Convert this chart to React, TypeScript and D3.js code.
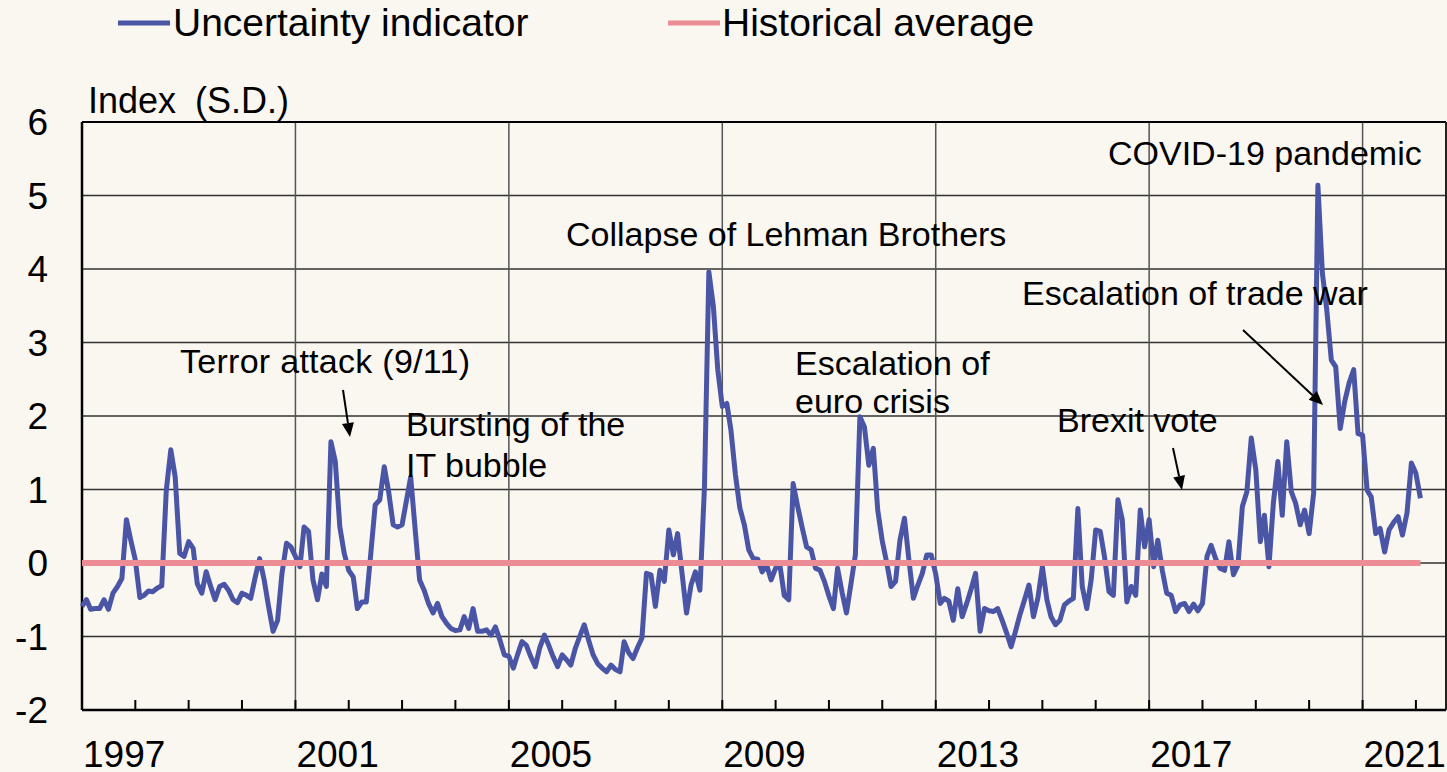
import React from 'react';
import { scaleLinear, scaleTime, line } from 'd3';

// monthly values of the uncertainty indicator, Jan 1997 onwards
const startYear = 1997;
const values1997to2000 = [
  -0.59, -0.5, -0.63, -0.62, -0.62, -0.5, -0.63, -0.41, -0.32, -0.21, 0.59, 0.31,
  0.04, -0.47, -0.44, -0.38, -0.39, -0.34, -0.31, 0.99, 1.54, 1.17, 0.13, 0.09,
  0.29, 0.2, -0.28, -0.41, -0.12, -0.32, -0.5, -0.32, -0.29, -0.37, -0.5, -0.54,
  -0.41, -0.44, -0.48, -0.19, 0.06, -0.23, -0.59, -0.93, -0.78, -0.14, 0.27, 0.22,
];
const values2001to2004 = [
  0.09, -0.05, 0.49, 0.43, -0.23, -0.5, -0.15, -0.32, 1.65, 1.38, 0.49, 0.13,
  -0.1, -0.19, -0.62, -0.53, -0.53, 0.13, 0.79, 0.86, 1.31, 0.97, 0.52, 0.49,
  0.52, 0.86, 1.17, 0.45, -0.23, -0.37, -0.55, -0.68, -0.55, -0.73, -0.82, -0.89,
  -0.92, -0.91, -0.73, -0.89, -0.62, -0.93, -0.93, -0.91, -0.98, -0.87, -1.05, -1.25,
];
const values2005to2008 = [
  -1.27, -1.43, -1.25, -1.07, -1.12, -1.28, -1.41, -1.15, -0.98, -1.12, -1.28, -1.41,
  -1.25, -1.32, -1.39, -1.16, -1.0, -0.84, -1.05, -1.25, -1.37, -1.43, -1.48, -1.39,
  -1.45, -1.48, -1.07, -1.22, -1.3, -1.15, -1.02, -0.14, -0.16, -0.59, -0.1, -0.25,
  0.45, 0.11, 0.4, -0.15, -0.68, -0.3, -0.12, -0.37, 1.04, 3.96, 3.49, 2.63,
];
const values2009to2012 = [
  2.13, 2.17, 1.81, 1.2, 0.75, 0.52, 0.18, 0.06, 0.05, -0.12, -0.03, -0.23,
  -0.07, -0.05, -0.44, -0.5, 1.08, 0.77, 0.49, 0.22, 0.18, -0.07, -0.1, -0.25,
  -0.45, -0.62, -0.07, -0.4, -0.68, -0.28, 0.11, 1.99, 1.85, 1.33, 1.56, 0.72,
  0.3, 0.0, -0.32, -0.25, 0.31, 0.61, 0.05, -0.48, -0.3, -0.14, 0.11, 0.11,
];
const values2013to2016 = [
  -0.15, -0.55, -0.48, -0.52, -0.78, -0.35, -0.73, -0.55, -0.35, -0.14, -0.93, -0.62,
  -0.65, -0.66, -0.62, -0.78, -0.95, -1.14, -0.93, -0.7, -0.5, -0.3, -0.73, -0.48,
  -0.05, -0.5, -0.73, -0.84, -0.78, -0.57, -0.52, -0.48, 0.74, -0.32, -0.62, -0.23,
  0.45, 0.43, 0.09, -0.39, -0.44, 0.86, 0.59, -0.53, -0.32, -0.44, 0.72, 0.22,
];
const values2017to2022 = [
  0.59, -0.05, 0.31, -0.1, -0.41, -0.44, -0.66, -0.57, -0.55, -0.66, -0.56, -0.65,
  -0.55, 0.09, 0.24, 0.06, -0.07, -0.1, 0.29, -0.16, -0.03, 0.77, 0.97, 1.7,
  1.27, 0.29, 0.65, -0.05, 0.81, 1.38, 0.65, 1.65, 0.97, 0.81, 0.52, 0.72,
  0.4, 0.95, 5.14, 3.94, 3.44, 2.76, 2.67, 1.83, 2.2, 2.45, 2.63, 1.76,
  1.74, 0.99, 0.9, 0.4, 0.47, 0.15, 0.45, 0.55, 0.63, 0.38, 0.68, 1.36,
  1.22, 0.88,
];
const historicalAverage = 0;

const yTicks = [-2, -1, 0, 1, 2, 3, 4, 5, 6];
const labelYears = [1997, 2001, 2005, 2009, 2013, 2017, 2021];
const gridYears = [2001, 2005, 2009, 2013, 2017, 2021];
const minorTickYears = [
  1998, 1999, 2000, 2001, 2002, 2003, 2004, 2005, 2006, 2007, 2008, 2009,
  2010, 2011, 2012, 2013, 2014, 2015, 2016, 2017, 2018, 2019, 2020, 2021, 2022,
];

const BLUE = '#4a55a6';
const PINK = '#ec8c94';
const FONT = '"Liberation Sans", Arial, sans-serif';

interface Point {
  date: Date;
  value: number;
}

function Arrow({ x1, y1, x2, y2 }: { x1: number; y1: number; x2: number; y2: number }) {
  const a = Math.atan2(y2 - y1, x2 - x1);
  const len = 14;
  const w = 6;
  const bx = x2 - len * Math.cos(a);
  const by = y2 - len * Math.sin(a);
  const p1 = `${bx + w * Math.sin(a)},${by - w * Math.cos(a)}`;
  const p2 = `${bx - w * Math.sin(a)},${by + w * Math.cos(a)}`;
  return (
    <g>
      <line x1={x1} y1={y1} x2={bx} y2={by} stroke="#000" strokeWidth={2} />
      <polygon points={`${x2},${y2} ${p1} ${p2}`} fill="#000" />
    </g>
  );
}

export default function App() {
  const width = 1447;
  const height = 772;
  const margin = { top: 122, right: 1, bottom: 62, left: 82 };

  const values = [
    ...values1997to2000,
    ...values2001to2004,
    ...values2005to2008,
    ...values2009to2012,
    ...values2013to2016,
    ...values2017to2022,
  ];
  const data: Point[] = values.map((v, i) => ({ date: new Date(startYear, i, 1), value: v }));

  const x = scaleTime()
    .domain([new Date(startYear, 0, 1), new Date(2022, 6, 26)])
    .range([margin.left, width - margin.right]);
  const y = scaleLinear()
    .domain([-2, 6])
    .range([height - margin.bottom, margin.top]);

  const path = line<Point>()
    .x((d) => x(d.date))
    .y((d) => y(d.value));

  const avg = data.map((d) => ({ date: d.date, value: historicalAverage }));
  const left = margin.left;
  const right = width - margin.right;
  const top = margin.top;
  const bottom = height - margin.bottom;

  return (
    <svg
      width={width}
      height={height}
      style={{ position: 'absolute', left: 0, top: 0, background: '#faf6f0' }}
      fontFamily={FONT}
    >
      <rect x={0} y={0} width={width} height={height} fill="#faf6f0" />

      {/* legend */}
      <line x1={118} x2={170} y1={23} y2={23} stroke={BLUE} strokeWidth={5} />
      <text x={173} y={36} fontSize={39}>Uncertainty indicator</text>
      <line x1={668} x2={720} y1={23} y2={23} stroke={PINK} strokeWidth={5} />
      <text x={722} y={36} fontSize={39}>Historical average</text>

      <text x={88} y={113} fontSize={36}>Index</text>
      <text x={195} y={113} fontSize={36}>(S.D.)</text>

      {/* grid */}
      {yTicks
        .filter((t) => t > -2 && t < 6)
        .map((t) => (
          <line key={`h${t}`} x1={left} x2={right} y1={y(t)} y2={y(t)} stroke="#333" strokeWidth={1.5} />
        ))}
      {gridYears.map((yr) => (
        <line
          key={`v${yr}`}
          x1={x(new Date(yr, 0, 1))}
          x2={x(new Date(yr, 0, 1))}
          y1={top}
          y2={bottom}
          stroke="#555"
          strokeWidth={1.5}
        />
      ))}
      {minorTickYears.map((yr) => (
        <line
          key={`t${yr}`}
          x1={x(new Date(yr, 0, 1))}
          x2={x(new Date(yr, 0, 1))}
          y1={bottom - 10}
          y2={bottom}
          stroke="#000"
          strokeWidth={2}
        />
      ))}

      {/* frame */}
      <line x1={left} x2={right} y1={top} y2={top} stroke="#000" strokeWidth={2} />
      <line x1={right} x2={right} y1={top} y2={bottom} stroke="#222" strokeWidth={2} />
      <line x1={left} x2={left} y1={top} y2={bottom} stroke="#000" strokeWidth={2.5} />
      <line x1={left} x2={right} y1={bottom} y2={bottom} stroke="#000" strokeWidth={2.5} />

      {/* y labels */}
      {yTicks.map((t) => (
        <text key={`yl${t}`} x={48} y={y(t)} dy="0.36em" fontSize={37} textAnchor="end">
          {t}
        </text>
      ))}
      {/* x labels */}
      {labelYears.map((yr) => (
        <text key={`xl${yr}`} x={x(new Date(yr, 0, 1)) + 1} y={767} fontSize={37}>
          {yr}
        </text>
      ))}

      {/* series */}
      <path d={path(data) ?? ''} fill="none" stroke={BLUE} strokeWidth={5} strokeLinejoin="round" />
      <path d={path(avg) ?? ''} fill="none" stroke={PINK} strokeWidth={6} />

      {/* annotations */}
      <g fontSize={34}>
        <text x={180} y={373} textLength={290}>Terror attack (9/11)</text>
        <text x={406} y={436}>Bursting of the</text>
        <text x={406} y={477}>IT bubble</text>
        <text x={566} y={246}>Collapse of Lehman Brothers</text>
        <text x={795} y={375}>Escalation of</text>
        <text x={795} y={413}>euro crisis</text>
        <text x={1057} y={432}>Brexit vote</text>
        <text x={1022} y={305}>Escalation of trade war</text>
        <text x={1108} y={165}>COVID-19 pandemic</text>
      </g>
      <Arrow x1={343} y1={390} x2={350} y2={437} />
      <Arrow x1={1173} y1={448} x2={1182} y2={490} />
      <Arrow x1={1243} y1={330} x2={1323} y2={405} />
    </svg>
  );
}
